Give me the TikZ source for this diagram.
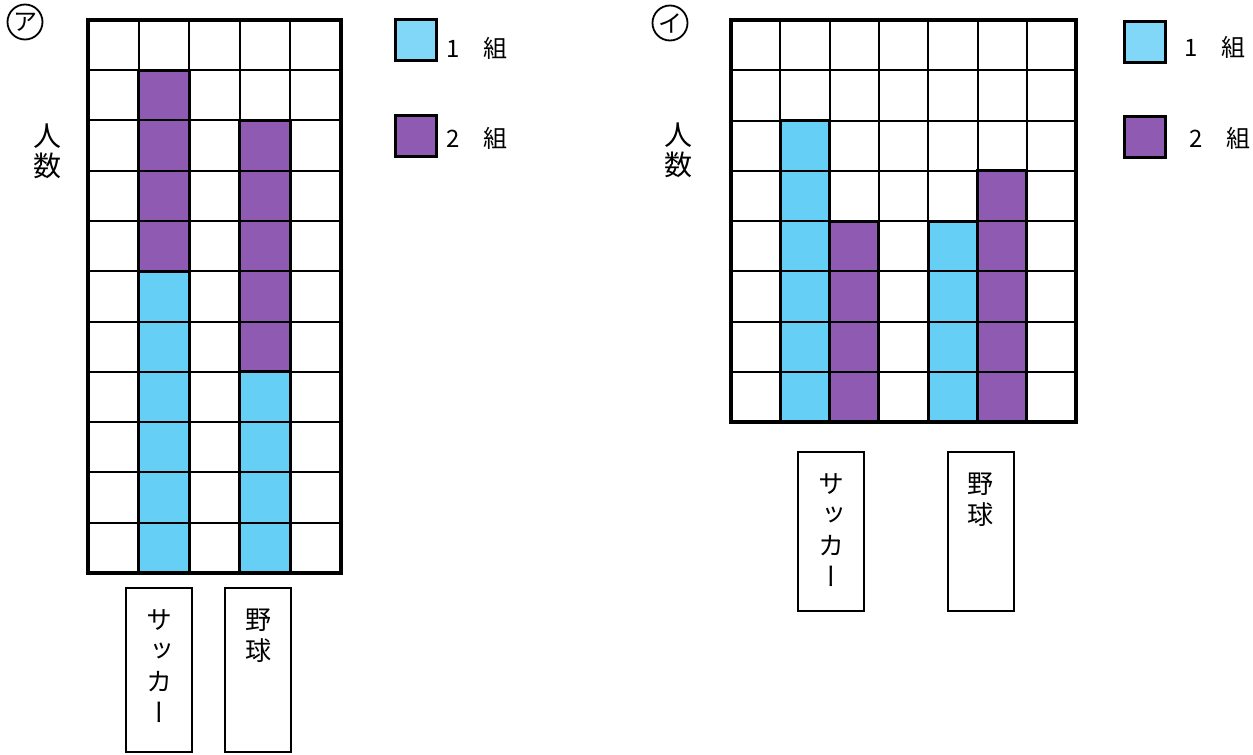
\documentclass[tikz,border=0pt]{standalone}
\usepackage{fontspec}
\usepackage{graphicx}
\newfontfamily\jp{Noto Sans CJK JP}
\newfontfamily\jpv[RawFeature=+vert]{Noto Sans CJK JP}
\definecolor{sky}{RGB}{102,207,245}
\definecolor{skykey}{RGB}{128,215,248}
\definecolor{grape}{RGB}{142,90,178}
\tikzset{
  gridline/.style={line width=2pt},
  barline/.style={line width=3pt},
  frame/.style={line width=4pt},
  key/.style={draw, line width=3pt, minimum size=41pt, inner sep=0pt},
  keytext/.style={anchor=west, inner sep=0pt, font=\jp\fontsize{24}{28}\selectfont},
  namebox/.style={draw, line width=2pt, minimum width=66pt, inner sep=0pt},
  nametext/.style={anchor=north, align=center, inner sep=0pt, font=\jpv\fontsize{26}{31}\selectfont},
  ninzu/.style={align=center, inner sep=0pt, font=\jp\fontsize{28}{30}\selectfont},
  maru/.style={draw, circle, line width=1.8pt, minimum size=35pt, inner sep=0pt, font=\jp\fontsize{24}{26}\selectfont}
}
\begin{document}
\begin{tikzpicture}[x=1pt,y=-1pt]
            \useasboundingbox (0,0) rectangle (1253,755);
            \node[maru] (maruA) at (25,22) {ア};
            \node[ninzu] (ninzuA) at (48,151) {人\\数};
            \begin{scope}[xshift=88pt,yshift=-573pt,x=50.6pt,y=50.3pt]
            \fill[sky] (1,0) rectangle (2,6);
            \fill[grape] (1,6) rectangle (2,10);
            \fill[sky] (3,0) rectangle (4,4);
            \fill[grape] (3,4) rectangle (4,9);
            \foreach \i in {1,...,4} \draw[gridline] (\i,0) -- (\i,11);
            \foreach \j in {1,...,10} \draw[gridline] (0,\j) -- (5,\j);
            \draw[barline] (1,0) rectangle (2,10) (1,6) -- (2,6);
            \draw[barline] (3,0) rectangle (4,9) (3,4) -- (4,4);
            \draw[frame] (0,0) rectangle (5,11);
            \end{scope}
            \node[key, fill=skykey] (keyA1) at (416,40) {};
            \node[keytext] (keyA1t) at (446,48) {1　組};
            \node[key, fill=grape] (keyA2) at (416,136) {};
            \node[keytext] (keyA2t) at (446,138) {2　組};
            \node[namebox, minimum height=164pt] (soccerA) at (159,670) {};
            \node[nametext] (soccerAt) at ([yshift=-22pt]soccerA.north) {サ\\ッ\\カ\\ー};
            \node[namebox, minimum height=164pt] (baseballA) at (258,670) {};
            \node[nametext] (baseballAt) at ([yshift=-22pt]baseballA.north) {野\\球};

            \node[maru] (maruB) at (670,23) {イ};
            \node[ninzu] (ninzuB) at (678,150) {人\\数};
            \begin{scope}[xshift=731pt,yshift=-422pt,x=49.3pt,y=50.25pt]
            \fill[sky] (1,0) rectangle (2,6);
            \fill[grape] (2,0) rectangle (3,4);
            \fill[sky] (4,0) rectangle (5,4);
            \fill[grape] (5,0) rectangle (6,5);
            \foreach \i in {1,...,6} \draw[gridline] (\i,0) -- (\i,8);
            \foreach \j in {1,...,7} \draw[gridline] (0,\j) -- (7,\j);
            \draw[barline] (1,0) rectangle (2,6) (2,0) rectangle (3,4);
            \draw[barline] (4,0) rectangle (5,4) (5,0) rectangle (6,5);
            \draw[frame] (0,0) rectangle (7,8);
            \end{scope}
            \node[key, fill=skykey] (keyB1) at (1145,42) {};
            \node[keytext] (keyB1t) at (1184,47) {1　組};
            \node[key, fill=grape] (keyB2) at (1145,137) {};
            \node[keytext] (keyB2t) at (1189,138) {2　組};
            \node[namebox, minimum height=159pt] (soccerB) at (831,531.5) {};
            \node[nametext] (soccerBt) at ([yshift=-22pt]soccerB.north) {サ\\ッ\\カ\\ー};
            \node[namebox, minimum height=159pt] (baseballB) at (980.5,531.5) {};
            \node[nametext] (baseballBt) at ([yshift=-22pt]baseballB.north) {野\\球};
        \end{tikzpicture}
\end{document}
